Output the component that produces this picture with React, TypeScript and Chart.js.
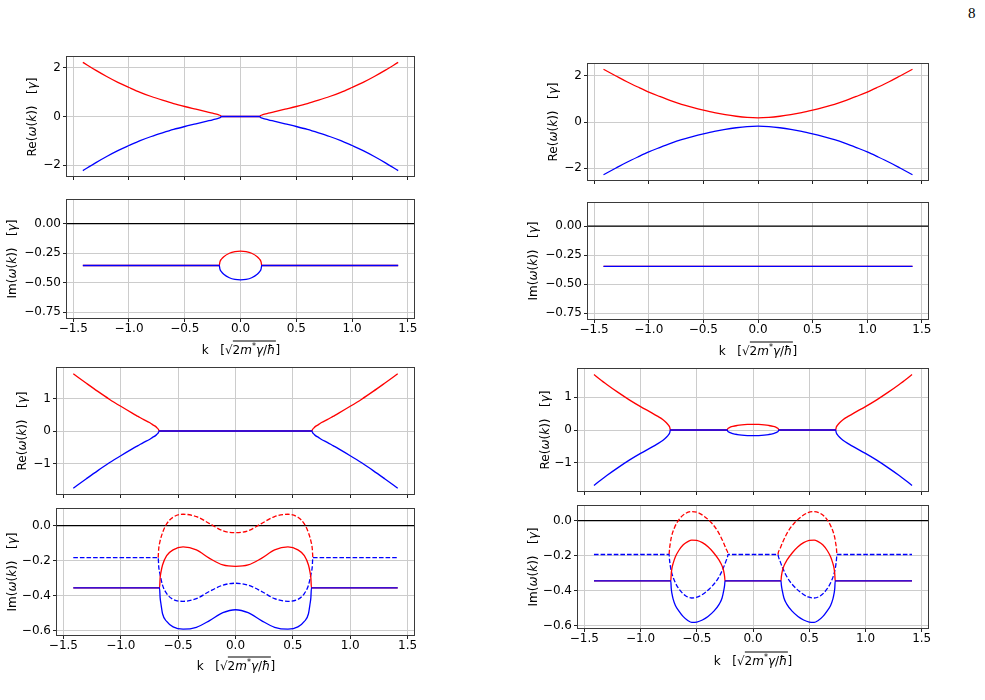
import React, { useEffect, useRef } from "react";
import { Chart, registerables } from "chart.js";
Chart.register(...registerables);

// ---------------- shared axis data ----------------
const kTicks = [-1.5, -1.0, -0.5, 0.0, 0.5, 1.0, 1.5];
const kRange = [-1.556, 1.556];
const zeroLine = [0, 0];
const reTicksAB = [-2, 0, 2];
const reTicksCD = [-1, 0, 1];
const imTicksAB = [-0.75, -0.5, -0.25, 0];
const imTicksCD = [-0.6, -0.4, -0.2, 0];

// ---------------- panel A (top left) ----------------
const aReK = [-1.414, -1.3, -1.2, -1.1, -1.0, -0.9, -0.8, -0.7, -0.6, -0.5, -0.4, -0.3, -0.25, -0.2, -0.18, -0.17, 0, 0.17, 0.18, 0.2, 0.25, 0.3, 0.4, 0.5, 0.6, 0.7, 0.8, 0.9, 1.0, 1.1, 1.2, 1.3, 1.414];
const aReRed = [2.22, 1.9, 1.64, 1.4, 1.19, 0.99, 0.82, 0.67, 0.53, 0.41, 0.3, 0.19, 0.135, 0.075, 0.04, 0, 0, 0, 0.04, 0.075, 0.135, 0.19, 0.3, 0.41, 0.53, 0.67, 0.82, 0.99, 1.19, 1.4, 1.64, 1.9, 2.22];
const aReBlue = [-2.22, -1.9, -1.64, -1.4, -1.19, -0.99, -0.82, -0.67, -0.53, -0.41, -0.3, -0.19, -0.135, -0.075, -0.04, 0, 0, 0, -0.04, -0.075, -0.135, -0.19, -0.3, -0.41, -0.53, -0.67, -0.82, -0.99, -1.19, -1.4, -1.64, -1.9, -2.22];
const aImK = [-1.414, -0.19, -0.185, -0.17, -0.15, -0.1, -0.05, 0, 0.05, 0.1, 0.15, 0.17, 0.185, 0.19, 1.414];
const aImRed = [-0.355, -0.355, -0.327, -0.3, -0.28, -0.251, -0.237, -0.233, -0.237, -0.251, -0.28, -0.3, -0.327, -0.355, -0.355];
const aImBlue = [-0.355, -0.355, -0.383, -0.41, -0.43, -0.459, -0.473, -0.477, -0.473, -0.459, -0.43, -0.41, -0.383, -0.355, -0.355];

// ---------------- panel B (top right) ----------------
const bReK = [-1.414, -1.3, -1.2, -1.1, -1.0, -0.9, -0.8, -0.7, -0.6, -0.5, -0.4, -0.3, -0.2, -0.1, 0, 0.1, 0.2, 0.3, 0.4, 0.5, 0.6, 0.7, 0.8, 0.9, 1.0, 1.1, 1.2, 1.3, 1.414];
const bReRed = [2.29, 2.0, 1.75, 1.52, 1.3, 1.11, 0.93, 0.77, 0.64, 0.52, 0.41, 0.32, 0.25, 0.2, 0.18, 0.2, 0.25, 0.32, 0.41, 0.52, 0.64, 0.77, 0.93, 1.11, 1.3, 1.52, 1.75, 2.0, 2.29];
const bReBlue = [-2.29, -2.0, -1.75, -1.52, -1.3, -1.11, -0.93, -0.77, -0.64, -0.52, -0.41, -0.32, -0.25, -0.2, -0.18, -0.2, -0.25, -0.32, -0.41, -0.52, -0.64, -0.77, -0.93, -1.11, -1.3, -1.52, -1.75, -2.0, -2.29];
const bImK = [-1.414, 1.414];
const bImRed = [-0.346, -0.346];
const bImBlue = [-0.346, -0.346];

// ---------------- panel C (bottom left) ----------------
const cReK = [-1.414, -1.3, -1.2, -1.1, -1.0, -0.9, -0.85, -0.8, -0.75, -0.72, -0.7, -0.685, -0.672, -0.665, 0, 0.665, 0.672, 0.685, 0.7, 0.72, 0.75, 0.8, 0.85, 0.9, 1.0, 1.1, 1.2, 1.3, 1.414];
const cReRed = [1.76, 1.47, 1.22, 0.98, 0.76, 0.55, 0.45, 0.35, 0.26, 0.19, 0.15, 0.1, 0.05, 0, 0, 0, 0.05, 0.1, 0.15, 0.19, 0.26, 0.35, 0.45, 0.55, 0.76, 0.98, 1.22, 1.47, 1.76];
const cReBlue = [-1.76, -1.47, -1.22, -0.98, -0.76, -0.55, -0.45, -0.35, -0.26, -0.19, -0.15, -0.1, -0.05, 0, 0, 0, -0.05, -0.1, -0.15, -0.19, -0.26, -0.35, -0.45, -0.55, -0.76, -0.98, -1.22, -1.47, -1.76];
const cImKSolid = [-1.414, -0.662, -0.657, -0.65, -0.636, -0.6, -0.544, -0.457, -0.341, -0.226, -0.11, 0, 0.11, 0.226, 0.341, 0.457, 0.544, 0.6, 0.636, 0.65, 0.657, 0.662, 1.414];
const cImRedSolid = [-0.355, -0.355, -0.298, -0.266, -0.224, -0.171, -0.138, -0.121, -0.138, -0.186, -0.224, -0.232, -0.224, -0.186, -0.138, -0.121, -0.138, -0.171, -0.224, -0.266, -0.298, -0.355, -0.355];
const cImBlueSolid = [-0.355, -0.355, -0.41, -0.445, -0.502, -0.546, -0.577, -0.59, -0.579, -0.541, -0.496, -0.479, -0.496, -0.541, -0.579, -0.59, -0.577, -0.546, -0.502, -0.445, -0.41, -0.355, -0.355];
const cImKDash = [-1.414, -0.674, -0.669, -0.66, -0.636, -0.6, -0.544, -0.457, -0.341, -0.226, -0.11, 0, 0.11, 0.226, 0.341, 0.457, 0.544, 0.6, 0.636, 0.66, 0.669, 0.674, 1.414];
const cImRedDash = [null, -0.182, -0.13, -0.095, -0.04, 0.01, 0.048, 0.065, 0.052, 0.012, -0.029, -0.04, -0.029, 0.012, 0.052, 0.065, 0.048, 0.01, -0.04, -0.095, -0.13, -0.182, null];
const cImBlueDash = [-0.182, -0.182, -0.235, -0.27, -0.339, -0.387, -0.42, -0.431, -0.416, -0.374, -0.339, -0.328, -0.339, -0.374, -0.416, -0.431, -0.42, -0.387, -0.339, -0.27, -0.235, -0.182, -0.182];

// ---------------- panel D (bottom right) ----------------
const dReK = [-1.414, -1.3, -1.2, -1.1, -1.0, -0.9, -0.85, -0.8, -0.77, -0.75, -0.74, -0.735, -0.23, -0.225, -0.21, -0.18, -0.14, -0.1, -0.05, 0, 0.05, 0.1, 0.14, 0.18, 0.21, 0.225, 0.23, 0.735, 0.74, 0.75, 0.77, 0.8, 0.85, 0.9, 1.0, 1.1, 1.2, 1.3, 1.414];
const dReRed = [1.68, 1.38, 1.14, 0.915, 0.71, 0.52, 0.42, 0.31, 0.22, 0.14, 0.08, 0, 0, 0.036, 0.071, 0.108, 0.137, 0.156, 0.169, 0.173, 0.169, 0.156, 0.137, 0.108, 0.071, 0.036, 0, 0, 0.08, 0.14, 0.22, 0.31, 0.42, 0.52, 0.71, 0.915, 1.14, 1.38, 1.68];
const dReBlue = [-1.68, -1.38, -1.14, -0.915, -0.71, -0.52, -0.42, -0.31, -0.22, -0.14, -0.08, 0, 0, -0.036, -0.071, -0.108, -0.137, -0.156, -0.169, -0.173, -0.169, -0.156, -0.137, -0.108, -0.071, -0.036, 0, 0, -0.08, -0.14, -0.22, -0.31, -0.42, -0.52, -0.71, -0.915, -1.14, -1.38, -1.68];
const dImKSolid = [-1.414, -0.731, -0.727, -0.72, -0.71, -0.69, -0.66, -0.62, -0.58, -0.544, -0.5, -0.45, -0.4, -0.35, -0.3, -0.275, -0.26, -0.252, -0.249, 0, 0.249, 0.252, 0.26, 0.275, 0.3, 0.35, 0.4, 0.45, 0.5, 0.544, 0.58, 0.62, 0.66, 0.69, 0.71, 0.72, 0.727, 0.731, 1.414];
const dImRedSolid = [-0.345, -0.345, -0.305, -0.27, -0.245, -0.207, -0.171, -0.138, -0.12, -0.111, -0.113, -0.126, -0.15, -0.184, -0.228, -0.259, -0.29, -0.322, -0.345, -0.345, -0.345, -0.322, -0.29, -0.259, -0.228, -0.184, -0.15, -0.126, -0.113, -0.111, -0.12, -0.138, -0.171, -0.207, -0.245, -0.27, -0.305, -0.345, -0.345];
const dImBlueSolid = [-0.345, -0.345, -0.388, -0.42, -0.45, -0.486, -0.517, -0.55, -0.572, -0.583, -0.581, -0.569, -0.549, -0.52, -0.478, -0.443, -0.4, -0.368, -0.345, -0.345, -0.345, -0.368, -0.4, -0.443, -0.478, -0.52, -0.549, -0.569, -0.581, -0.583, -0.572, -0.55, -0.517, -0.486, -0.45, -0.42, -0.388, -0.345, -0.345];
const dImKDash = [-1.414, -0.746, -0.742, -0.735, -0.725, -0.7, -0.66, -0.6, -0.544, -0.49, -0.43, -0.37, -0.31, -0.265, -0.237, -0.226, -0.222, 0, 0.222, 0.226, 0.237, 0.265, 0.31, 0.37, 0.43, 0.49, 0.544, 0.6, 0.66, 0.7, 0.725, 0.735, 0.742, 0.746, 1.414];
const dImRedDash = [null, -0.194, -0.16, -0.128, -0.092, -0.043, 0.005, 0.041, 0.052, 0.046, 0.023, -0.012, -0.064, -0.122, -0.165, -0.18, -0.194, null, -0.194, -0.18, -0.165, -0.122, -0.064, -0.012, 0.023, 0.046, 0.052, 0.041, 0.005, -0.043, -0.092, -0.128, -0.16, -0.194, null];
const dImBlueDash = [-0.194, -0.194, -0.225, -0.26, -0.293, -0.342, -0.39, -0.43, -0.443, -0.437, -0.414, -0.38, -0.331, -0.273, -0.226, -0.206, -0.194, -0.194, -0.194, -0.206, -0.226, -0.273, -0.331, -0.38, -0.414, -0.437, -0.443, -0.43, -0.39, -0.342, -0.293, -0.26, -0.225, -0.194, -0.194];

const RED = "#ff0000";
const BLUE = "#0000ff";

type Line = { k: number[]; v: (number | null)[]; color: string; dashed?: boolean };
type Sub = {
  l: number; t: number; r: number; b: number;
  yMin: number; yMax: number; yTicks: number[]; yDec: number;
  lines: Line[]; zero: boolean; xLabels: boolean;
};

const subs: Sub[] = [
  { l: 67, t: 57, r: 414, b: 176, yMin: -2.44, yMax: 2.44, yTicks: reTicksAB, yDec: 0, zero: false, xLabels: false,
    lines: [{ k: aReK, v: aReRed, color: RED }, { k: aReK, v: aReBlue, color: BLUE }] },
  { l: 67, t: 200, r: 414, b: 318, yMin: -0.8, yMax: 0.2, yTicks: imTicksAB, yDec: 2, zero: true, xLabels: true,
    lines: [{ k: aImK, v: aImRed, color: RED }, { k: aImK, v: aImBlue, color: BLUE }] },
  { l: 588, t: 64, r: 928, b: 180, yMin: -2.52, yMax: 2.52, yTicks: reTicksAB, yDec: 0, zero: false, xLabels: false,
    lines: [{ k: bReK, v: bReRed, color: RED }, { k: bReK, v: bReBlue, color: BLUE }] },
  { l: 588, t: 203, r: 928, b: 319, yMin: -0.8, yMax: 0.2, yTicks: imTicksAB, yDec: 2, zero: true, xLabels: true,
    lines: [{ k: bImK, v: bImRed, color: RED }, { k: bImK, v: bImBlue, color: BLUE }] },
  { l: 57, t: 368, r: 414, b: 494, yMin: -1.94, yMax: 1.94, yTicks: reTicksCD, yDec: 0, zero: false, xLabels: false,
    lines: [{ k: cReK, v: cReRed, color: RED }, { k: cReK, v: cReBlue, color: BLUE }] },
  { l: 57, t: 509, r: 414, b: 635, yMin: -0.623, yMax: 0.095, yTicks: imTicksCD, yDec: 1, zero: true, xLabels: true,
    lines: [
      { k: cImKDash, v: cImRedDash, color: RED, dashed: true },
      { k: cImKDash, v: cImBlueDash, color: BLUE, dashed: true },
      { k: cImKSolid, v: cImRedSolid, color: RED },
      { k: cImKSolid, v: cImBlueSolid, color: BLUE },
    ] },
  { l: 578, t: 369, r: 928, b: 491, yMin: -1.85, yMax: 1.85, yTicks: reTicksCD, yDec: 0, zero: false, xLabels: false,
    lines: [{ k: dReK, v: dReRed, color: RED }, { k: dReK, v: dReBlue, color: BLUE }] },
  { l: 578, t: 506, r: 928, b: 628, yMin: -0.615, yMax: 0.084, yTicks: imTicksCD, yDec: 1, zero: true, xLabels: true,
    lines: [
      { k: dImKDash, v: dImRedDash, color: RED, dashed: true },
      { k: dImKDash, v: dImBlueDash, color: BLUE, dashed: true },
      { k: dImKSolid, v: dImRedSolid, color: RED },
      { k: dImKSolid, v: dImBlueSolid, color: BLUE },
    ] },
];

const fmt = (v: number, dec: number) => {
  const s = Math.abs(v).toFixed(dec);
  return (v < -1e-9 ? "\u2212" : "") + s;
};

const framePlugin = {
  id: "frame",
  afterDraw(chart: any) {
    const { ctx, chartArea: a } = chart;
    ctx.save();
    ctx.strokeStyle = "#3a3a3a";
    ctx.lineWidth = 1;
    const x0 = Math.round(a.left) - 0.5;
    const y0 = Math.round(a.top) - 0.5;
    const w = Math.round(a.right) - Math.round(a.left) + 1;
    const h = Math.round(a.bottom) - Math.round(a.top) + 1;
    ctx.strokeRect(x0, y0, w, h);
    ctx.restore();
  },
};

const FONT = "'DejaVu Sans', 'Liberation Sans', sans-serif";

function SubPlot({ sub }: { sub: Sub }) {
  const ref = useRef<HTMLCanvasElement>(null);
  const L = Math.min(62, sub.l);
  const T = 10;
  const R = 14;
  const B = sub.xLabels ? 26 : 6;
  const W = sub.r - sub.l + L + R;
  const H = sub.b - sub.t + T + B;

  useEffect(() => {
    const datasets: any[] = [];
    if (sub.zero) {
      datasets.push({
        data: kRange.map((x, i) => ({ x, y: zeroLine[i] })),
        borderColor: "#000000",
        borderWidth: 1.2,
        tension: 0,
      });
    }
    sub.lines.forEach((ln) => {
      datasets.push({
        data: ln.k.map((x, i) => ({ x, y: ln.v[i] })),
        borderColor: ln.color,
        borderWidth: 1.3,
        borderDash: ln.dashed ? [4.6, 2] : [],
        cubicInterpolationMode: "monotone",
        spanGaps: false,
      });
    });
    const n = datasets.length;
    datasets.forEach((d, i) => {
      d.order = n - i;
      d.pointRadius = 0;
      d.fill = false;
    });

    const zeroPad = (s: any) => {
      s.paddingLeft = 0;
      s.paddingRight = 0;
      s.paddingTop = 0;
      s.paddingBottom = 0;
    };

    const chart = new Chart(ref.current as HTMLCanvasElement, {
      type: "line",
      data: { datasets },
      plugins: [framePlugin],
      options: {
        animation: false,
        responsive: false,
        devicePixelRatio: 1,
        events: [],
        layout: { padding: { left: 0, top: T, right: R, bottom: 0 } },
        plugins: { legend: { display: false }, tooltip: { enabled: false } },
        elements: { point: { radius: 0 }, line: { borderCapStyle: "butt", borderJoinStyle: "round" } },
        scales: {
          x: {
            type: "linear",
            min: kRange[0],
            max: kRange[1],
            border: { display: false },
            grid: { color: "#cccccc", lineWidth: 1, tickColor: "#222222", tickLength: 4, drawTicks: true },
            ticks: {
              display: sub.xLabels,
              color: "#000000",
              font: { family: FONT, size: 12 },
              padding: 0,
              maxRotation: 0,
              minRotation: 0,
              autoSkip: false,
              callback: (v: any) => fmt(Number(v), 1),
            },
            afterBuildTicks: (s: any) => {
              s.ticks = kTicks.map((value) => ({ value }));
            },
            afterFit: (s: any) => {
              s.height = B;
              zeroPad(s);
            },
          },
          y: {
            type: "linear",
            min: sub.yMin,
            max: sub.yMax,
            border: { display: false },
            grid: { color: "#cccccc", lineWidth: 1, tickColor: "#222222", tickLength: 4, drawTicks: true },
            ticks: {
              color: "#000000",
              font: { family: FONT, size: 12 },
              padding: 2,
              autoSkip: false,
              callback: (v: any) => fmt(Number(v), sub.yDec),
            },
            afterBuildTicks: (s: any) => {
              s.ticks = sub.yTicks.map((value) => ({ value }));
            },
            afterFit: (s: any) => {
              s.width = L;
              zeroPad(s);
            },
          },
        },
      } as any,
    });
    return () => chart.destroy();
  }, []);

  return (
    <canvas
      ref={ref}
      width={W}
      height={H}
      style={{ position: "absolute", left: sub.l - L, top: sub.t - T, width: W, height: H }}
    />
  );
}

const labelStyle: React.CSSProperties = {
  position: "absolute",
  whiteSpace: "nowrap",
  fontFamily: FONT,
  fontSize: 12,
  lineHeight: 1,
  color: "#000",
};

function VLabel({ cx, cy, kind }: { cx: number; cy: number; kind: "Re" | "Im" }) {
  return (
    <div style={{ ...labelStyle, left: cx, top: cy, transform: "translate(-50%, -50%) rotate(-90deg)" }}>
      {kind}(<i>ω</i>(<i>k</i>))&nbsp;&nbsp;&nbsp;[<i>γ</i>]
    </div>
  );
}

function XLabel({ cx, cy }: { cx: number; cy: number }) {
  return (
    <div style={{ ...labelStyle, left: cx, top: cy, transform: "translate(-50%, -50%)" }}>
      k&nbsp;&nbsp;&nbsp;[√
      <span style={{ borderTop: "1px solid #000", paddingTop: 1 }}>
        2<i>m</i>
        <sup style={{ fontSize: 8 }}>*</sup>
        <i>γ</i>/<i>ħ</i>
      </span>
      ]
    </div>
  );
}

const vLabels: { cx: number; cy: number; kind: "Re" | "Im" }[] = [
  { cx: 32, cy: 116.5, kind: "Re" },
  { cx: 12, cy: 259, kind: "Im" },
  { cx: 553, cy: 122, kind: "Re" },
  { cx: 533, cy: 261, kind: "Im" },
  { cx: 22, cy: 431, kind: "Re" },
  { cx: 12, cy: 572, kind: "Im" },
  { cx: 545, cy: 430, kind: "Re" },
  { cx: 533, cy: 567, kind: "Im" },
];
const xLabels = [
  { cx: 241, cy: 349 },
  { cx: 758, cy: 350 },
  { cx: 236, cy: 665 },
  { cx: 753, cy: 660 },
];

export default function App() {
  return (
    <div style={{ position: "absolute", left: 0, top: 0, width: 985, height: 700, background: "#ffffff", overflow: "hidden" }}>
      <div style={{ position: "absolute", left: 968, top: 6, fontFamily: "'Liberation Serif', 'DejaVu Serif', serif", fontSize: 15, lineHeight: 1 }}>8</div>
      {subs.map((s, i) => (
        <SubPlot key={i} sub={s} />
      ))}
      {vLabels.map((v, i) => (
        <VLabel key={"v" + i} {...v} />
      ))}
      {xLabels.map((x, i) => (
        <XLabel key={"x" + i} {...x} />
      ))}
    </div>
  );
}
